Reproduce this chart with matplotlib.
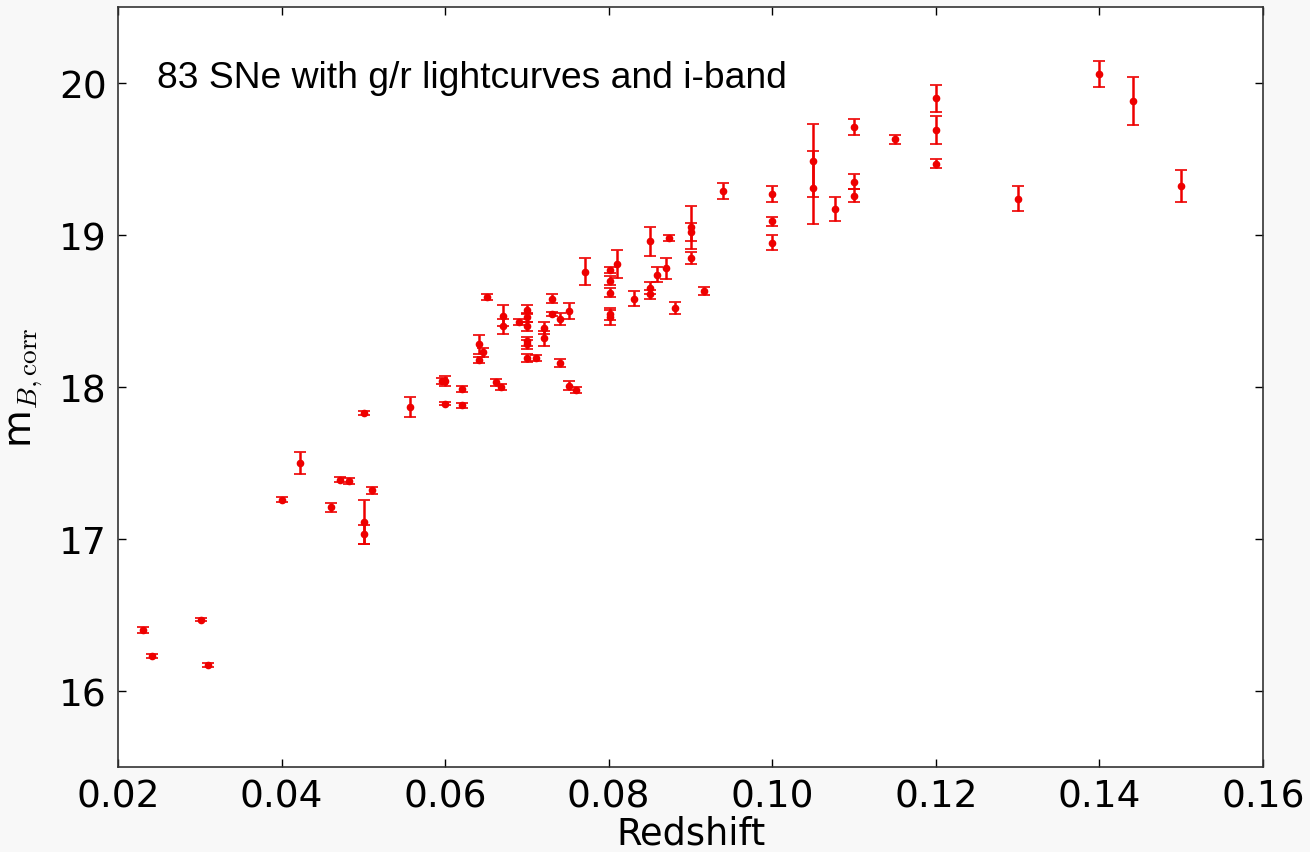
import matplotlib
matplotlib.use("Agg")
import matplotlib.pyplot as plt

redshift = [0.0230, 0.0241, 0.0301, 0.0310, 0.0401, 0.0422, 0.0460, 0.0472, 0.0483,
            0.0501, 0.0501, 0.0511, 0.0501, 0.0557, 0.0596, 0.0600, 0.0600, 0.0620,
            0.0620, 0.0651, 0.0641, 0.0646, 0.0641, 0.0662, 0.0668, 0.0671, 0.0671,
            0.0690, 0.0700, 0.0700, 0.0700, 0.0700, 0.0700, 0.0700, 0.0711, 0.0721,
            0.0721, 0.0731, 0.0731, 0.0741, 0.0751, 0.0741, 0.0751, 0.0760, 0.0771,
            0.0801, 0.0801, 0.0801, 0.0801, 0.0801, 0.0810, 0.0831, 0.0850, 0.0850,
            0.0850, 0.0859, 0.0870, 0.0874, 0.0881, 0.0901, 0.0901, 0.0901, 0.0916,
            0.0940, 0.1000, 0.1000, 0.1000, 0.1050, 0.1050, 0.1077, 0.1100, 0.1100,
            0.1100, 0.1150, 0.1200, 0.1200, 0.1200, 0.1300, 0.1400, 0.1441, 0.1500]

mag = [16.40, 16.23, 16.47, 16.17, 17.26, 17.50, 17.21, 17.39, 17.38,
       17.11, 17.03, 17.32, 17.83, 17.87, 18.04, 18.04, 17.89, 17.99,
       17.88, 18.59, 18.28, 18.23, 18.18, 18.03, 18.00, 18.47, 18.40,
       18.43, 18.51, 18.46, 18.40, 18.30, 18.28, 18.19, 18.19, 18.39,
       18.32, 18.58, 18.48, 18.45, 18.50, 18.16, 18.01, 17.98, 18.76,
       18.77, 18.70, 18.62, 18.48, 18.46, 18.81, 18.58, 18.96, 18.65,
       18.61, 18.74, 18.78, 18.98, 18.52, 19.05, 19.02, 18.85, 18.63,
       19.29, 19.27, 19.09, 18.95, 19.49, 19.31, 19.17, 19.71, 19.35,
       19.26, 19.63, 19.90, 19.69, 19.47, 19.24, 20.06, 19.88, 19.32]

mag_err = [0.020, 0.015, 0.010, 0.015, 0.015, 0.070, 0.030, 0.015, 0.020,
           0.145, 0.060, 0.025, 0.015, 0.065, 0.020, 0.030, 0.010, 0.020,
           0.015, 0.020, 0.060, 0.030, 0.020, 0.020, 0.020, 0.070, 0.050,
           0.020, 0.030, 0.030, 0.030, 0.030, 0.030, 0.025, 0.020, 0.040,
           0.050, 0.030, 0.015, 0.040, 0.050, 0.025, 0.030, 0.020, 0.090,
           0.020, 0.030, 0.030, 0.040, 0.050, 0.090, 0.050, 0.095, 0.040,
           0.030, 0.050, 0.070, 0.020, 0.040, 0.140, 0.060, 0.040, 0.025,
           0.050, 0.050, 0.030, 0.050, 0.240, 0.240, 0.080, 0.055, 0.050,
           0.040, 0.030, 0.090, 0.090, 0.030, 0.085, 0.083, 0.157, 0.105]

xticks = [0.02, 0.04, 0.06, 0.08, 0.10, 0.12, 0.14, 0.16]
xtick_labels = ["0.02", "0.04", "0.06", "0.08", "0.10", "0.12", "0.14", "0.16"]
yticks = [16, 17, 18, 19, 20]

plt.rcParams['mathtext.fontset'] = 'cm'
plt.rcParams['font.family'] = ['DejaVu Sans']

fig = plt.figure(figsize=(13.1, 8.53), dpi=100, facecolor='#f8f8f8')
ax = fig.add_axes([0.0901, 0.0996, 0.8740, 0.8910])
ax.set_facecolor('white')

ax.errorbar(redshift, mag, yerr=mag_err, fmt='o', color='#ee0000', ecolor='#ee0000',
            markersize=4.5, markeredgecolor='#ee0000', elinewidth=1.8,
            capsize=4.5, capthick=1.2)

ax.set_xlim(0.02, 0.16)
ax.set_ylim(15.5, 20.5)
ax.set_xticks(xticks)
ax.set_xticklabels(xtick_labels)
ax.set_yticks(yticks)
ax.tick_params(direction='in', top=True, right=True, length=6, width=1,
               labelsize=27, pad=8)
for s in ax.spines.values():
    s.set_color('#333333')
    s.set_linewidth(1.2)

ax.set_xlabel('Redshift', fontsize=26.5, labelpad=0)
ax.set_ylabel(r'm$_{B,\mathrm{corr}}$', fontsize=28, labelpad=10)

ax.text(0.034, 0.895, '83 SNe with g/r lightcurves and i-band', transform=ax.transAxes,
        fontsize=26.8, family=['Liberation Sans', 'DejaVu Sans'], va='baseline', ha='left')

fig.savefig('out.png', dpi=100, facecolor=fig.get_facecolor())
